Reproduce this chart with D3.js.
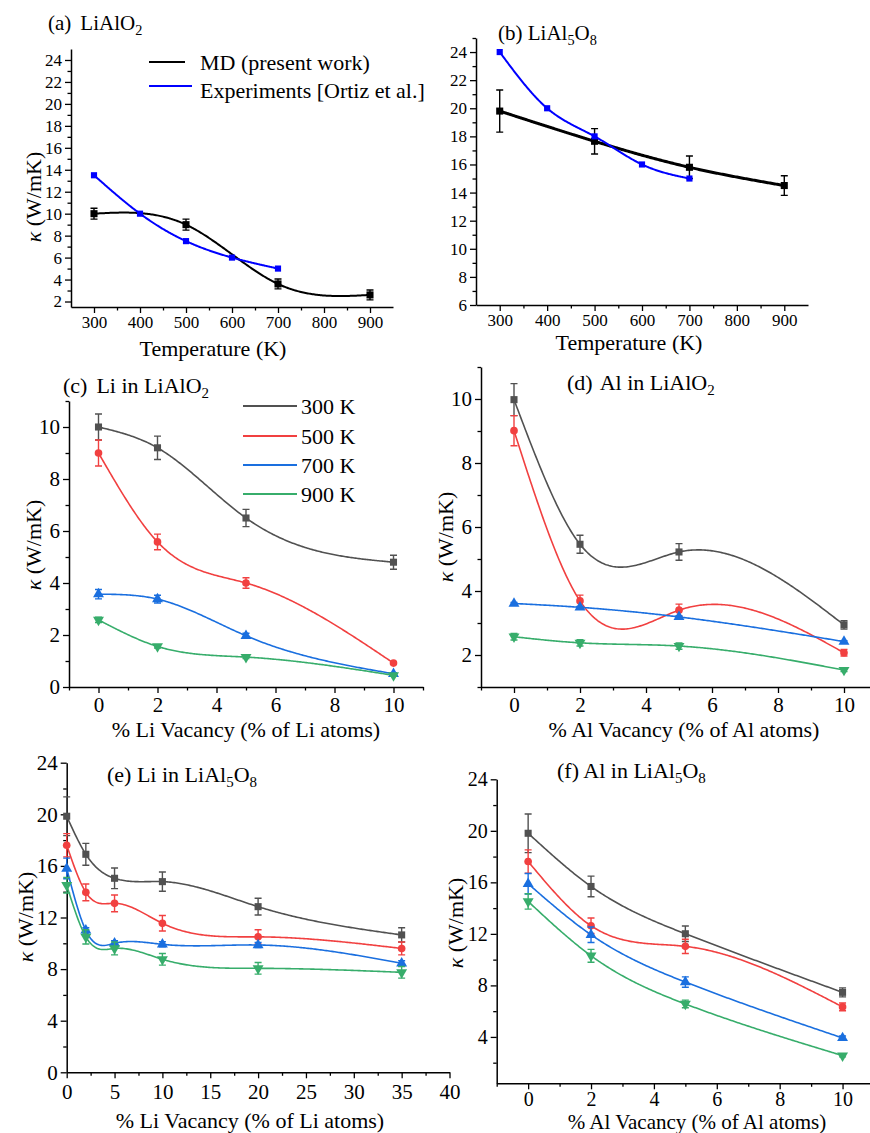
<!DOCTYPE html>
<html>
<head>
<meta charset="utf-8">
<script src="https://cdn.jsdelivr.net/npm/d3@7"></script>
<style>
body { margin: 0; background: #fff; }
</style>
</head>
<body>
<svg id="fig" width="870" height="1133"></svg>
<script>
// ---- data ----
var tempMD = [300, 500, 700, 900];
var tempExp = [300, 400, 500, 600, 700];

// (a) LiAlO2
var aMD = [10.0, 9.0, 3.6, 2.6];
var aMDErr = [0.5, 0.5, 0.45, 0.45];
var aExp = [13.5, 10.0, 7.5, 6.0, 5.0];

// (b) LiAl5O8
var bMD = [19.8, 17.65, 15.8, 14.5];
var bMDErr = [1.5, 0.9, 0.8, 0.7];
var bExp = [24.0, 20.0, 18.0, 16.0, 15.0];

var temps = ["300 K", "500 K", "700 K", "900 K"];

// (c) Li vacancy in LiAlO2
var vacC = [0, 2, 5, 10];
var c300 = [10.0, 9.2, 6.5, 4.8],   c300Err = [0.5, 0.45, 0.33, 0.27];
var c500 = [9.0, 5.58, 4.0, 0.92],  c500Err = [0.5, 0.3, 0.2, 0.05];
var c700 = [3.57, 3.38, 1.97, 0.51], c700Err = [0.18, 0.15, 0.1, 0.04];
var c900 = [2.58, 1.56, 1.15, 0.45], c900Err = [0.1, 0.06, 0.06, 0.04];

// (d) Al vacancy in LiAlO2
var vacD = [0, 2, 5, 10];
var d300 = [9.98, 5.46, 5.22, 2.94], d300Err = [0.5, 0.28, 0.26, 0.13];
var d500 = [9.01, 3.69, 3.40, 2.07], d500Err = [0.47, 0.18, 0.19, 0.1];
var d700 = [3.61, 3.49, 3.19, 2.42], d700Err = [0.03, 0.03, 0.03, 0.03];
var d900 = [2.57, 2.38, 2.28, 1.53], d900Err = [0.1, 0.1, 0.1, 0.05];

// (e) Li vacancy in LiAl5O8
var vacE = [0, 2, 5, 10, 20, 35];
var e300 = [19.85, 16.9, 15.04, 14.78, 12.84, 10.65], e300Err = [1.5, 0.85, 0.8, 0.75, 0.65, 0.55];
var e500 = [17.6, 13.95, 13.1, 11.55, 10.5, 9.6],    e500Err = [0.9, 0.65, 0.65, 0.6, 0.55, 0.5];
var e700 = [15.8, 11.0, 10.0, 9.92, 9.87, 8.45],     e700Err = [0.8, 0.2, 0.2, 0.2, 0.2, 0.2];
var e900 = [14.5, 10.5, 9.6, 8.76, 8.06, 7.75],      e900Err = [0.6, 0.55, 0.5, 0.45, 0.45, 0.45];

// (f) Al vacancy in LiAl5O8
var vacF = [0, 2, 5, 10];
var f300 = [19.81, 15.68, 12.01, 7.46], f300Err = [1.5, 0.8, 0.6, 0.35];
var f500 = [17.62, 12.63, 11.03, 6.33], f500Err = [0.9, 0.6, 0.55, 0.3];
var f700 = [15.89, 11.93, 8.26, 3.92],  f700Err = [0.8, 0.6, 0.4, 0.15];
var f900 = [14.52, 10.3, 6.56, 2.55],   f900Err = [0.6, 0.5, 0.3, 0.1];

var colors = ["#515151", "#F14040", "#1A6FDF", "#37AD6B"];
var symbols = ["square", "circle", "up", "down"];
var FONT = '"Liberation Serif", "Times New Roman", Times, serif';

var svg = d3.select("#fig").attr("font-family", FONT);
svg.append("rect").attr("width", 870).attr("height", 1133).attr("fill", "#fff");

// cubic spline through the points (natural ends), in data x like Origin's "Spline" line
function naturalSpline(xs, ys) {
    var n = xs.length, h = [], M = [], a = [], b = [], c = [], d = [], i;
    for (i = 0; i < n; i++) M[i] = 0;
    for (i = 0; i < n - 1; i++) h[i] = xs[i + 1] - xs[i];
    for (i = 1; i < n - 1; i++) {
        a[i] = h[i - 1]; b[i] = 2 * (h[i - 1] + h[i]); c[i] = h[i];
        d[i] = 6 * ((ys[i + 1] - ys[i]) / h[i] - (ys[i] - ys[i - 1]) / h[i - 1]);
    }
    for (i = 2; i < n - 1; i++) {
        var m = a[i] / b[i - 1];
        b[i] -= m * c[i - 1];
        d[i] -= m * d[i - 1];
    }
    for (i = n - 2; i >= 1; i--) M[i] = (d[i] - c[i] * M[i + 1]) / b[i];
    return function(x) {
        var k = 0;
        while (k < n - 2 && x > xs[k + 1]) k++;
        var hk = h[k], A = (xs[k + 1] - x) / hk, B = (x - xs[k]) / hk;
        return A * ys[k] + B * ys[k + 1] + ((A * A * A - A) * M[k] + (B * B * B - B) * M[k + 1]) * hk * hk / 6;
    };
}

function rich(sel, parts, size) {
    parts.forEach(function(p) {
        var t = sel.append("tspan").text(p.t);
        if (p.dx) t.attr("dx", p.dx);
        if (p.italic) t.attr("font-style", "italic");
        if (p.sub) t.attr("font-size", size * 0.68).attr("dy", size * 0.22);
        if (p.back) t.attr("dy", -size * 0.22);
    });
}

function marker(g, type, cx, cy, color, size) {
    var s;
    if (type == "square") s = d3.symbol().type(d3.symbolSquare).size(size || 50);
    else if (type == "circle") s = d3.symbol().type(d3.symbolCircle).size(size || 46);
    else s = d3.symbol().type(d3.symbolTriangle).size(size || 52);
    var rot = type == "down" ? " rotate(180)" : "";
    g.append("path")
        .attr("d", s())
        .attr("transform", "translate(" + cx + "," + cy + ")" + rot)
        .attr("fill", color);
}

function panel(cfg) {
    var x = d3.scaleLinear().domain(cfg.xDomain).range([cfg.x0, cfg.x1]);
    var y = d3.scaleLinear().domain(cfg.yDomain).range([cfg.y1, cfg.y0]);
    var g = svg.append("g");

    // minor ticks
    g.append("g").attr("transform", "translate(0," + cfg.y1 + ")")
        .call(d3.axisBottom(x).tickValues(cfg.xMinor).tickSize(3.5).tickFormat(""))
        .call(function(a) { a.select(".domain").remove(); });
    g.append("g").attr("transform", "translate(" + cfg.x0 + ",0)")
        .call(d3.axisLeft(y).tickValues(cfg.yMinor).tickSize(3.5).tickFormat(""))
        .call(function(a) { a.select(".domain").remove(); });

    // major ticks
    g.append("g").attr("transform", "translate(0," + cfg.y1 + ")")
        .call(d3.axisBottom(x).tickValues(cfg.xMajor).tickSize(6).tickSizeOuter(0)
            .tickPadding(cfg.xPad || 4).tickFormat(d3.format("d")))
        .attr("font-size", cfg.tickFont).attr("font-family", FONT);
    g.append("g").attr("transform", "translate(" + cfg.x0 + ",0)")
        .call(d3.axisLeft(y).tickValues(cfg.yMajor).tickSize(6).tickSizeOuter(0)
            .tickPadding(cfg.yPad || 3).tickFormat(d3.format("d")))
        .attr("font-size", cfg.tickFont).attr("font-family", FONT);
    g.selectAll(".domain").attr("stroke-width", 1.5);
    g.selectAll(".tick line").attr("stroke-width", 1.3);
    g.selectAll(".tick text").attr("fill", "#000");

    // series
    var line = d3.line().x(function(d) { return x(d[0]); }).y(function(d) { return y(d[1]); });
    cfg.series.forEach(function(s) {
        var f = naturalSpline(s.x, s.y);
        var lo = s.x[0], hi = s.x[s.x.length - 1];
        var pts = d3.range(0, 241).map(function(j) {
            var xv = lo + (hi - lo) * j / 240;
            return [xv, f(xv)];
        });
        g.append("path")
            .attr("d", line(pts))
            .attr("fill", "none")
            .attr("stroke", s.color)
            .attr("stroke-width", s.width || 1.6);
        if (s.err) {
            s.x.forEach(function(v, i) {
                var cx = x(v), top = y(s.y[i] + s.err[i]), bot = y(s.y[i] - s.err[i]);
                g.append("path")
                    .attr("d", "M" + cx + "," + top + "V" + bot +
                        "M" + (cx - 3.5) + "," + top + "H" + (cx + 3.5) +
                        "M" + (cx - 3.5) + "," + bot + "H" + (cx + 3.5))
                    .attr("stroke", s.color)
                    .attr("stroke-width", 1.4)
                    .attr("fill", "none");
            });
        }
        s.x.forEach(function(v, i) { marker(g, s.sym, x(v), y(s.y[i]), s.color, s.size); });
    });

    // labels
    if (cfg.title) {
        var t = svg.append("text").attr("x", cfg.title.x).attr("y", cfg.title.y)
            .attr("font-size", cfg.title.size);
        rich(t, cfg.title.parts, cfg.title.size);
    }
    if (cfg.xLabel) {
        svg.append("text").attr("x", cfg.xLabel.x).attr("y", cfg.xLabel.y)
            .attr("text-anchor", "middle").attr("font-size", cfg.xLabel.size || 22).text(cfg.xLabel.text);
    }
    if (cfg.yLabel) {
        var yl = svg.append("text")
            .attr("transform", "translate(" + cfg.yLabel.x + "," + cfg.yLabel.y + ") rotate(-90)")
            .attr("text-anchor", "middle").attr("font-size", 22);
        rich(yl, [{t: "\u03ba", italic: true}, {t: " (W/mK)"}], 22);
    }
    return {x: x, y: y};
}

function minorOf(lo, hi, step, major) {
    return d3.range(lo, hi + step / 2, step).filter(function(v) {
        return major.indexOf(+v.toFixed(3)) < 0;
    });
}

function tempSeries(xs, ys, errs) {
    return ys.map(function(v, i) {
        return {x: xs, y: v, err: errs[i], color: colors[i], sym: symbols[i]};
    });
}

// (a)
var tMajor = [300, 400, 500, 600, 700, 800, 900];
var aYMajor = [2, 4, 6, 8, 10, 12, 14, 16, 18, 20, 22, 24];
panel({
    x0: 71, x1: 393, y0: 49, y1: 307,
    xDomain: [250, 950], yDomain: [1.5, 25],
    xMajor: tMajor, xMinor: minorOf(350, 850, 100, tMajor),
    yMajor: aYMajor, yMinor: minorOf(3, 23, 2, aYMajor),
    tickFont: 17, xPad: 3,
    series: [
        {x: tempMD, y: aMD, err: aMDErr, color: "#000", sym: "square", width: 2},
        {x: tempExp, y: aExp, color: "#0000FF", sym: "square", width: 2, size: 38}
    ],
    title: {x: 48, y: 30, size: 21, parts: [{t: "(a)"}, {t: "LiAlO", dx: 9}, {t: "2", sub: true}]},
    xLabel: {x: 213, y: 356, text: "Temperature (K)"},
    yLabel: {x: 41, y: 197}
});

// legend (a)
var legA = svg.append("g");
legA.append("line").attr("x1", 149).attr("x2", 185).attr("y1", 62).attr("y2", 62)
    .attr("stroke", "#000").attr("stroke-width", 2);
legA.append("line").attr("x1", 149).attr("x2", 192).attr("y1", 86).attr("y2", 86)
    .attr("stroke", "#0000FF").attr("stroke-width", 2);
legA.append("text").attr("x", 200).attr("y", 70).attr("font-size", 22).text("MD (present work)");
legA.append("text").attr("x", 200).attr("y", 98).attr("font-size", 22).text("Experiments [Ortiz et al.]");

// (b)
var bYMajor = [6, 8, 10, 12, 14, 16, 18, 20, 22, 24];
panel({
    x0: 476, x1: 808, y0: 38, y1: 305,
    xDomain: [250, 950], yDomain: [6, 25],
    xMajor: tMajor, xMinor: minorOf(350, 850, 100, tMajor),
    yMajor: bYMajor, yMinor: minorOf(7, 25, 2, bYMajor),
    tickFont: 17, xPad: 3,
    series: [
        {x: tempMD, y: bMD, err: bMDErr, color: "#000", sym: "square", width: 3},
        {x: tempExp, y: bExp, color: "#0000FF", sym: "square", width: 2, size: 38}
    ],
    title: {x: 498, y: 40, size: 21, parts: [{t: "(b) LiAl"}, {t: "5", sub: true}, {t: "O", back: true}, {t: "8", sub: true}]},
    xLabel: {x: 629, y: 350, text: "Temperature (K)"}
});

// (c)
var vMajor = [0, 2, 4, 6, 8, 10];
var cYMajor = [0, 2, 4, 6, 8, 10];
panel({
    x0: 69, x1: 423, y0: 401, y1: 687,
    xDomain: [-1, 11], yDomain: [0, 11],
    xMajor: vMajor, xMinor: minorOf(-1, 11, 2, vMajor),
    yMajor: cYMajor, yMinor: minorOf(1, 11, 2, cYMajor),
    tickFont: 21,
    series: tempSeries(vacC, [c300, c500, c700, c900], [c300Err, c500Err, c700Err, c900Err]),
    title: {x: 63, y: 393, size: 22, parts: [{t: "(c)"}, {t: "Li in LiAlO", dx: 9}, {t: "2", sub: true}]},
    xLabel: {x: 246, y: 737, text: "% Li Vacancy (% of Li atoms)"},
    yLabel: {x: 41, y: 545}
});

// legend (c)
var legC = svg.append("g");
var legY = [406, 436, 465, 494];
temps.forEach(function(name, i) {
    legC.append("line").attr("x1", 243).attr("x2", 297).attr("y1", legY[i]).attr("y2", legY[i])
        .attr("stroke", colors[i]).attr("stroke-width", 1.8);
    legC.append("text").attr("x", 301).attr("y", legY[i] + 8).attr("font-size", 22).text(name);
});

// (d)
var dYMajor = [2, 4, 6, 8, 10];
panel({
    x0: 481, x1: 877, y0: 367, y1: 687,
    xDomain: [-1, 11], yDomain: [1, 11],
    xMajor: vMajor, xMinor: minorOf(-1, 11, 2, vMajor),
    yMajor: dYMajor, yMinor: minorOf(1, 11, 2, dYMajor),
    tickFont: 21,
    series: tempSeries(vacD, [d300, d500, d700, d900], [d300Err, d500Err, d700Err, d900Err]),
    title: {x: 567, y: 390, size: 22, parts: [{t: "(d)"}, {t: "Al in LiAlO", dx: 7}, {t: "2", sub: true}]},
    xLabel: {x: 684, y: 737, text: "% Al Vacancy (% of Al atoms)"},
    yLabel: {x: 453, y: 537}
});

// (e)
var eXMajor = [0, 5, 10, 15, 20, 25, 30, 35, 40];
var eYMajor = [0, 4, 8, 12, 16, 20, 24];
panel({
    x0: 66.7, x1: 449.5, y0: 762.7, y1: 1072.3,
    xDomain: [0, 40], yDomain: [0, 24],
    xMajor: eXMajor, xMinor: minorOf(2.5, 37.5, 5, eXMajor),
    yMajor: eYMajor, yMinor: minorOf(2, 22, 4, eYMajor),
    tickFont: 21, xPad: 6,
    series: tempSeries(vacE, [e300, e500, e700, e900], [e300Err, e500Err, e700Err, e900Err]),
    title: {x: 107, y: 782, size: 22, parts: [{t: "(e) Li in LiAl"}, {t: "5", sub: true}, {t: "O", back: true}, {t: "8", sub: true}]},
    xLabel: {x: 250, y: 1128, text: "% Li Vacancy (% of Li atoms)"},
    yLabel: {x: 33, y: 917}
});

// (f)
var fYMajor = [4, 8, 12, 16, 20, 24];
panel({
    x0: 496.7, x1: 874, y0: 779.3, y1: 1083.3,
    xDomain: [-1, 11], yDomain: [0.4, 24],
    xMajor: vMajor, xMinor: minorOf(-1, 11, 2, vMajor),
    yMajor: fYMajor, yMinor: minorOf(2, 22, 4, fYMajor),
    tickFont: 20, xPad: 3,
    series: tempSeries(vacF, [f300, f500, f700, f900], [f300Err, f500Err, f700Err, f900Err]),
    title: {x: 557, y: 778, size: 22, parts: [{t: "(f) Al in LiAl"}, {t: "5", sub: true}, {t: "O", back: true}, {t: "8", sub: true}]},
    xLabel: {x: 697, y: 1129, size: 21, text: "% Al Vacancy (% of Al atoms)"},
    yLabel: {x: 463, y: 923}
});

svg.selectAll("text, tspan").style("font-family", FONT);
</script>
</body>
</html>
